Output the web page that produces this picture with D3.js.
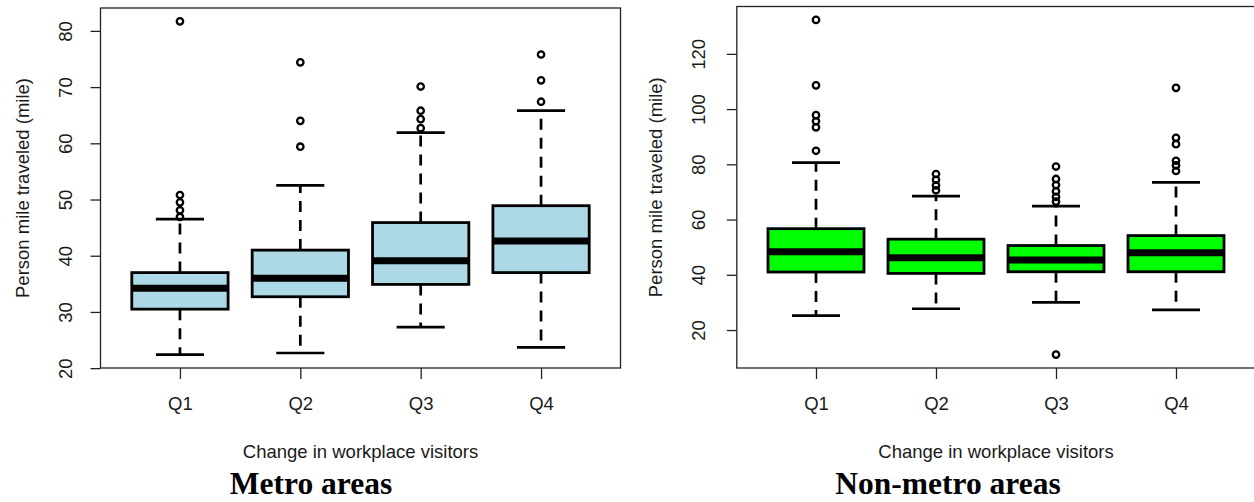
<!DOCTYPE html>
<html><head><meta charset="utf-8">
<script src="https://cdn.jsdelivr.net/npm/d3@7"></script>
<style>body{margin:0;background:#fff} svg{display:block}</style>
</head><body>
<svg id="chart" width="1254" height="502"></svg>
<script>
// ---------- data ----------
const categories = ["Q1", "Q2", "Q3", "Q4"];
// five-number summaries: [lower whisker, lower hinge, median, upper hinge, upper whisker]
const metroStats = [
  [22.4, 30.5, 34.2, 37.0, 46.5],
  [22.7, 32.7, 36.0, 41.0, 52.5],
  [27.3, 34.9, 39.1, 45.9, 61.9],
  [23.7, 37.0, 42.6, 48.9, 65.8]
];
const metroOutliers = [
  [81.7, 50.8, 49.5, 48.1, 46.9],
  [74.4, 64.0, 59.4],
  [70.1, 65.8, 64.3, 62.7],
  [75.8, 71.2, 67.4]
];
const nonMetroStats = [
  [25.2, 41.0, 48.3, 56.7, 80.6],
  [27.7, 40.5, 46.2, 52.9, 68.5],
  [30.0, 41.1, 45.4, 50.6, 64.9],
  [27.3, 41.1, 48.0, 54.2, 73.5]
];
const nonMetroOutliers = [
  [132.3, 108.6, 97.8, 95.6, 93.4, 84.9],
  [76.5, 74.4, 72.4, 70.6],
  [79.2, 74.7, 72.5, 70.2, 68.2, 66.5, 11.1],
  [107.7, 89.6, 87.3, 81.3, 79.6, 77.6]
];
const metroTicks = [20, 30, 40, 50, 60, 70, 80];
const nonMetroTicks = [20, 40, 60, 80, 100, 120];
const yTitle = "Person mile traveled (mile)";
const xTitle = "Change in workplace visitors";
const panelTitles = ["Metro areas", "Non-metro areas"];

// ---------- drawing ----------
const svg = d3.select("#chart");
const FONT = "'Liberation Sans', Arial, Helvetica, sans-serif";
const TXT = "#1a1a1a";
const FS = 18.5;

function panel(cfg) {
  const g = svg.append("g");
  const allVals = cfg.stats.flat().concat(cfg.outliers.flat());
  const [mn, mx] = d3.extent(allVals);
  const pad = (mx - mn) * 0.04;
  const y = d3.scaleLinear().domain([mn - pad, mx + pad]).range([cfg.bottom, cfg.top]);
  const n = categories.length;
  const xpad = n * 0.04;
  const x = d3.scaleLinear().domain([0.5 - xpad, n + 0.5 + xpad]).range([cfg.left, cfg.right]);
  const bw = x(1.4) - x(1);   // half box width (boxwex 0.8)
  const sw = x(1.2) - x(1);   // half staple width

  categories.forEach((c, i) => {
    const cx = x(i + 1);
    const s = cfg.stats[i];
    // whiskers (dashed)
    g.append("line").attr("x1", cx).attr("x2", cx).attr("y1", y(s[1])).attr("y2", y(s[0]))
      .attr("stroke", "#000").attr("stroke-width", 2.7).attr("stroke-dasharray", "11,8");
    g.append("line").attr("x1", cx).attr("x2", cx).attr("y1", y(s[3])).attr("y2", y(s[4]))
      .attr("stroke", "#000").attr("stroke-width", 2.7).attr("stroke-dasharray", "11,8");
    // staples
    [s[0], s[4]].forEach(v => {
      g.append("line").attr("x1", cx - sw).attr("x2", cx + sw).attr("y1", y(v)).attr("y2", y(v))
        .attr("stroke", "#000").attr("stroke-width", 2.7);
    });
    // box
    g.append("rect").attr("x", cx - bw).attr("width", 2 * bw)
      .attr("y", y(s[3])).attr("height", y(s[1]) - y(s[3]))
      .attr("fill", cfg.fill).attr("stroke", "#000").attr("stroke-width", 2.8);
    // median
    g.append("line").attr("x1", cx - bw).attr("x2", cx + bw).attr("y1", y(s[2])).attr("y2", y(s[2]))
      .attr("stroke", "#000").attr("stroke-width", 7);
    // outliers
    cfg.outliers[i].forEach(v => {
      g.append("circle").attr("cx", cx).attr("cy", y(v)).attr("r", 3.2)
        .attr("fill", "none").attr("stroke", "#000").attr("stroke-width", 2.3);
    });
  });

  // frame
  g.append("rect").attr("x", cfg.left).attr("y", cfg.top)
    .attr("width", cfg.right - cfg.left).attr("height", cfg.bottom - cfg.top)
    .attr("fill", "none").attr("stroke", "#222").attr("stroke-width", 1.3);

  // y axis
  const ya = g.append("g").attr("transform", `translate(${cfg.left},0)`)
    .call(d3.axisLeft(y).tickValues(cfg.ticks).tickSize(10).tickFormat(d3.format("d")));
  ya.select(".domain").remove();
  ya.selectAll(".tick line").attr("stroke", "#222").attr("stroke-width", 1.3);
  ya.selectAll(".tick text")
    .attr("x", null).attr("dy", null)
    .attr("transform", `translate(${-cfg.ylabOff},0) rotate(-90)`)
    .attr("dy", "0.36em").attr("text-anchor", "middle")
    .attr("font-family", FONT).attr("font-size", FS).attr("fill", TXT);

  // x axis
  const xa = g.append("g").attr("transform", `translate(0,${cfg.bottom})`)
    .call(d3.axisBottom(x).tickValues(d3.range(1, n + 1)).tickSize(11)
      .tickFormat((d) => categories[d - 1]));
  xa.select(".domain").remove();
  xa.selectAll(".tick line").attr("stroke", "#222").attr("stroke-width", 1.3);
  xa.selectAll(".tick text").attr("y", null).attr("dy", null)
    .attr("y", 42).attr("font-family", FONT).attr("font-size", FS).attr("fill", TXT);

  // axis titles
  g.append("text").attr("transform", `translate(${cfg.ytitleX},${(cfg.top + cfg.bottom) / 2}) rotate(-90)`)
    .attr("dy", "0.36em").attr("text-anchor", "middle")
    .attr("font-family", FONT).attr("font-size", FS).attr("fill", TXT).text(yTitle);
  g.append("text").attr("x", (cfg.left + cfg.right) / 2).attr("y", 458)
    .attr("text-anchor", "middle")
    .attr("font-family", FONT).attr("font-size", FS).attr("fill", TXT).text(xTitle);

  // panel title
  g.append("text").attr("x", cfg.titleX).attr("y", 494).attr("text-anchor", "middle")
    .attr("font-family", "'Liberation Serif', 'Times New Roman', serif")
    .attr("font-weight", "bold").attr("font-size", 31.5).attr("fill", "#000").text(cfg.title);
}

panel({
  stats: metroStats, outliers: metroOutliers, ticks: metroTicks, fill: "#ADD8E6",
  left: 100.5, right: 620.5, top: 8, bottom: 368,
  ylabOff: 35, ytitleX: 22, titleX: 311, title: panelTitles[0]
});
panel({
  stats: nonMetroStats, outliers: nonMetroOutliers, ticks: nonMetroTicks, fill: "#00FF00",
  left: 736.8, right: 1255.2, top: 6.5, bottom: 368,
  ylabOff: 38, ytitleX: 655, titleX: 948, title: panelTitles[1]
});
</script>
</body></html>
